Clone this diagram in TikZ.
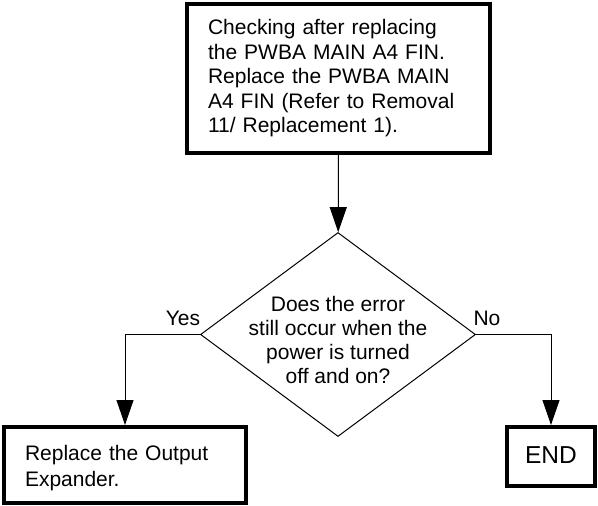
\documentclass[tikz,border=0pt]{standalone}
\usepackage{fontspec}
\setmainfont{Liberation Sans}
\usetikzlibrary{shapes.geometric,arrows.meta}
\newcommand{\lowerby}[2]{\raisebox{-#1}[\height][\depth]{#2}}
\begin{document}
\begin{tikzpicture}[x=1pt,y=-1pt,
  every node/.style={font=\fontsize{21}{24.5}\selectfont},
  boxstyle/.style={draw,line width=4pt,inner ysep=0pt,inner xsep=21pt,align=left},
  link/.style={line width=1pt,-{Triangle[length=25pt,width=17pt]}}]
\useasboundingbox (0,0) rectangle (598,506);
\node[boxstyle,minimum height=149pt,text width=261pt] (top) at (338.5,78.5)
  {Checking after replacing\\the PWBA MAIN A4 FIN.\\Replace the PWBA MAIN\\A4 FIN (Refer to Removal\\11/ Replacement 1).};
\node[draw,diamond,line width=1pt,minimum width=275pt,minimum height=204pt,inner sep=0pt] (dia) at (338,334.5) {};
\node[align=center,font=\fontsize{21}{24}\selectfont,inner sep=0pt] (dtext) at (338,340)
  {Does the error\\still occur when the\\power is turned\\off and on?};
\node[boxstyle,minimum height=76pt,text width=200pt,font=\fontsize{21}{25.5}\selectfont] (left) at (125,465)
  {\lowerby{3pt}{\parbox{200pt}{Replace the Output\\Expander.}}};
\node[draw,line width=4pt,minimum height=59pt,minimum width=88pt,inner sep=0pt,font=\fontsize{24.5}{28}\selectfont] (end) at (551,456.5) {\lowerby{-1.5pt}{END}};
\node (yes) at (183,318) {Yes};
\node (no) at (487,318) {No};
\draw[link] (top) -- (dia);
\draw[link] (dia.west) -| (left.north);
\draw[link] (dia.east) -| (end.north);
\end{tikzpicture}
\end{document}
